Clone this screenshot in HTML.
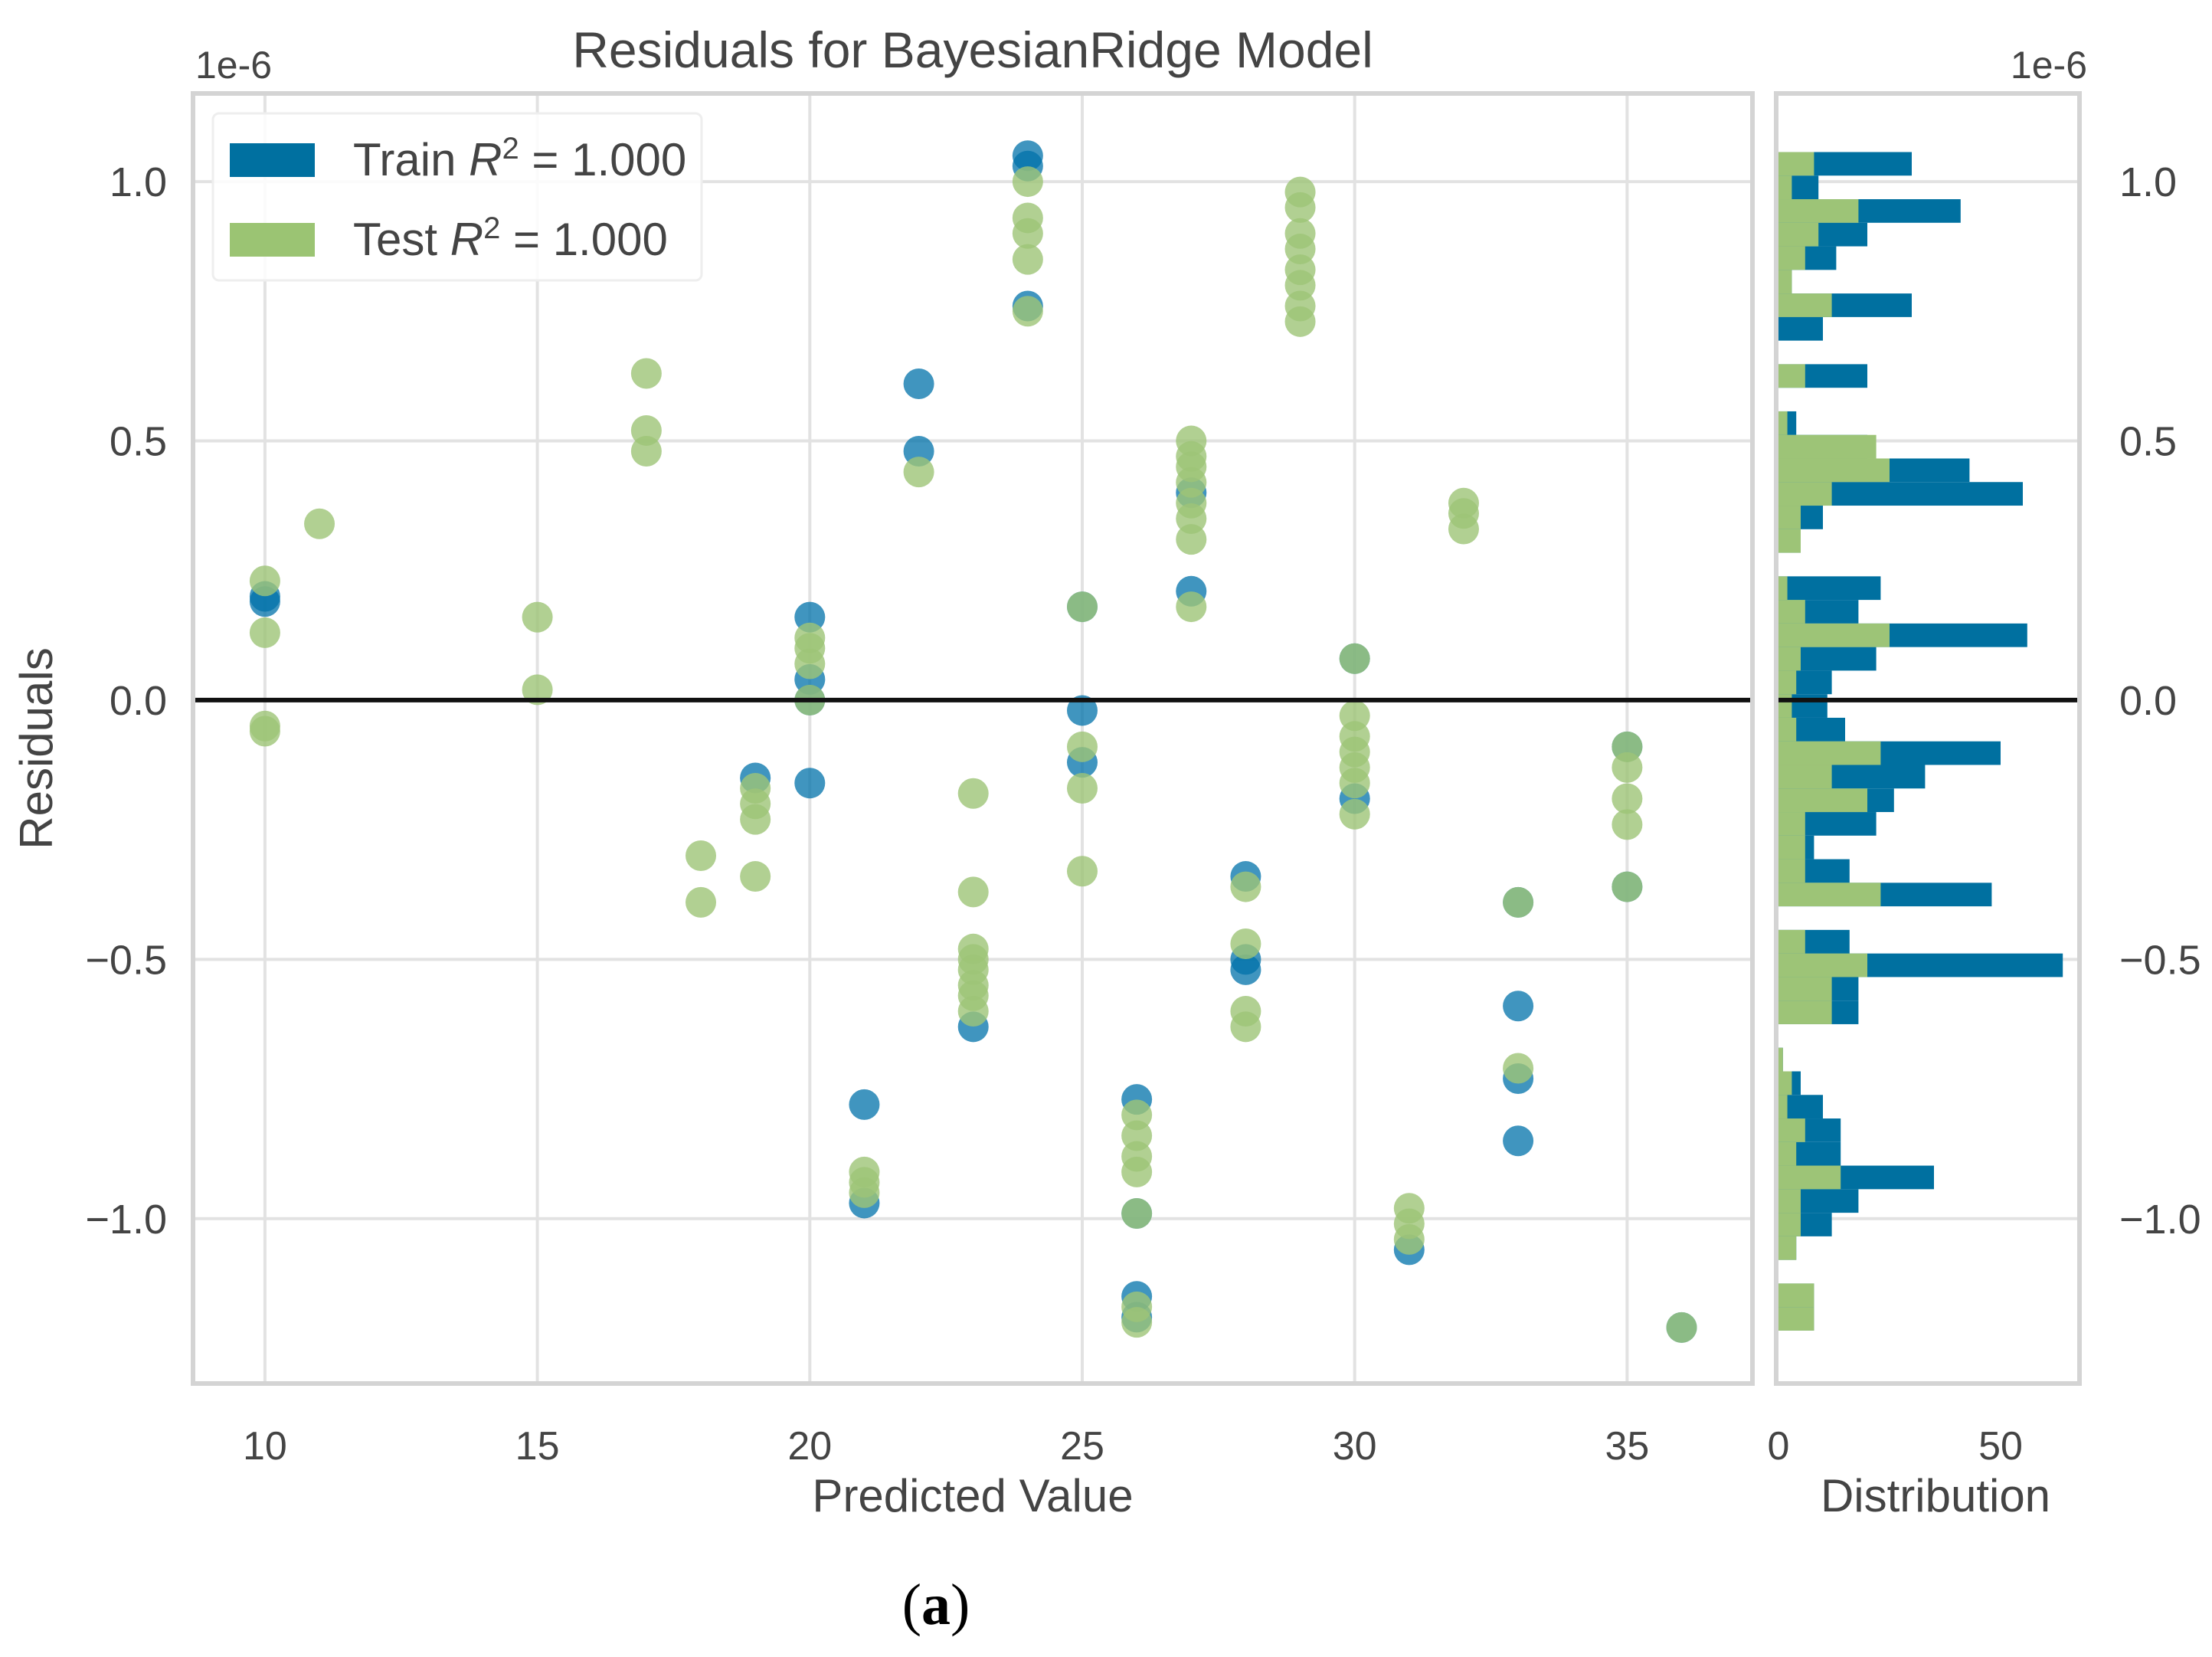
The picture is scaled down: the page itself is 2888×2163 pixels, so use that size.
<!DOCTYPE html>
<html><head><meta charset="utf-8"><style>
html,body{margin:0;padding:0;background:#fff;}
svg text{font-family:"Liberation Sans",sans-serif;fill:#444;}
</style></head><body>
<svg id="chart" width="2888" height="2158" viewBox="0 0 2888 2158" xmlns="http://www.w3.org/2000/svg">
<g id="main"></g>
<g id="hist"></g>
<text x="1270" y="88" font-size="66" text-anchor="middle">Residuals for BayesianRidge Model</text>
<text x="255" y="102" font-size="50">1e-6</text>
<text x="2725" y="102" font-size="50" text-anchor="end">1e-6</text>
<text x="1270" y="1973" font-size="60" text-anchor="middle">Predicted Value</text>
<text x="2527" y="1973" font-size="60" text-anchor="middle">Distribution</text>
<text transform="translate(68,977) rotate(-90)" font-size="60" text-anchor="middle">Residuals</text>
<text x="1222" y="2120" font-size="76" text-anchor="middle" style="font-family:'Liberation Serif',serif;fill:#000">(<tspan font-weight="bold">a</tspan>)</text>
<g>
<rect x="278" y="148" width="638" height="218" rx="8" fill="#fff" fill-opacity="0.85" stroke="#eee" stroke-width="3"/>
<rect x="300" y="187" width="111" height="44" fill="#0070a0"/>
<rect x="300" y="291" width="111" height="44" fill="#9bc473"/>
<text x="461" y="229" font-size="60">Train <tspan font-style="italic">R</tspan><tspan dy="-22" font-size="40">2</tspan><tspan dy="22"> = 1.000</tspan></text>
<text x="461" y="333" font-size="60">Test <tspan font-style="italic">R</tspan><tspan dy="-22" font-size="40">2</tspan><tspan dy="22"> = 1.000</tspan></text>
</g>
</svg>
<script>
const xTicks=[10,15,20,25,30,35];
const yTicks=[-1.0,-0.5,0.0,0.5,1.0];
const yTickLabels=["\u22121.0","\u22120.5","0.0","0.5","1.0"];
const histTicks=[0,50];
const trainX=[10,10,19,20,20,20,20,21,21,22,22,23,24,24,24,25,25,25,26,26,26,26,27,27,28,28,28,30,30,31,33,33,33,33,35,35,36];
const trainY=[0.2,0.19,-0.15,0.16,0.04,0.0,-0.16,-0.78,-0.97,0.61,0.48,-0.63,1.05,1.03,0.76,0.18,-0.02,-0.12,-0.77,-0.99,-1.15,-1.19,0.21,0.4,-0.34,-0.5,-0.52,0.08,-0.19,-1.06,-0.39,-0.59,-0.73,-0.85,-0.09,-0.36,-1.21];
const testX=[10,10,10,10,11,15,15,17,17,17,18,18,19,19,19,19,20,20,20,20,21,21,21,22,23,23,23,23,23,23,23,23,24,24,24,24,24,25,25,25,25,26,26,26,26,26,26,26,27,27,27,27,27,27,27,27,28,28,28,28,29,29,29,29,29,29,29,29,30,30,30,30,30,30,30,31,31,31,32,32,32,33,33,35,35,35,35,35,36];
const testY=[0.23,0.13,-0.05,-0.06,0.34,0.16,0.02,0.63,0.52,0.48,-0.30,-0.39,-0.17,-0.2,-0.23,-0.34,0.12,0.1,0.07,0.0,-0.91,-0.93,-0.95,0.44,-0.18,-0.37,-0.48,-0.5,-0.52,-0.55,-0.57,-0.6,1.0,0.93,0.9,0.85,0.75,0.18,-0.09,-0.17,-0.33,-0.8,-0.84,-0.88,-0.91,-0.99,-1.17,-1.2,0.5,0.47,0.45,0.42,0.38,0.35,0.31,0.18,-0.36,-0.47,-0.6,-0.63,0.98,0.95,0.9,0.87,0.83,0.8,0.76,0.73,0.08,-0.03,-0.07,-0.1,-0.13,-0.16,-0.22,-0.98,-1.01,-1.04,0.38,0.36,0.33,-0.71,-0.39,-0.09,-0.36,-0.13,-0.19,-0.24,-1.21];
const trainCounts=[30,9,41,20,13,3,30,10,0,20,0,4,20,43,55,10,5,0,23,18,56,22,12,11,15,50,33,26,22,8,16,48,0,16,64,18,18,0,1,5,10,14,14,35,18,12,4,0,8,8];
const testCounts=[8,3,18,9,6,3,12,0,0,6,0,2,22,25,12,5,5,0,2,6,25,5,4,3,4,23,12,20,6,6,6,23,0,6,20,12,12,0,1,3,2,6,4,14,5,5,4,0,8,8];
const binTop=1.057, binWidth=0.04546;

const NS="http://www.w3.org/2000/svg";
const L=252,R=2288,T=122,B=1806,HL=2319,HR=2715;
const xMin=8.68,xMax=37.3,yMin=-1.318,yMax=1.17;
function sx(v){return L+(v-xMin)/(xMax-xMin)*(R-L);}
function sy(v){return B-(v-yMin)/(yMax-yMin)*(B-T);}
function hx(c){return 2322+c*5.8;}
function mk(tag,attrs,parent){const e=document.createElementNS(NS,tag);for(const k in attrs)e.setAttribute(k,attrs[k]);parent.appendChild(e);return e;}
const main=document.getElementById('main'),hist=document.getElementById('hist');
const svg=document.getElementById('chart');

xTicks.forEach((t,i)=>{
  const l=mk('line',{x1:sx(t),x2:sx(t),y1:T,y2:B,stroke:'#e2e2e2','stroke-width':4},main);
  
  
  const tx=mk('text',{x:sx(t),y:1905,'font-size':52,'text-anchor':'middle'},svg);
  tx.textContent=String(t);
  
  
});
yTicks.forEach((t,i)=>{
  const l=mk('line',{x1:L,x2:R,y1:sy(t),y2:sy(t),stroke:'#e2e2e2','stroke-width':4},main);
  
  
  const l2=mk('line',{x1:HL,x2:HR,y1:sy(t),y2:sy(t),stroke:'#e2e2e2','stroke-width':4},hist);
  
  
  const tx=mk('text',{x:218,y:sy(t)+19,'font-size':54,'text-anchor':'end'},svg);
  tx.textContent=yTickLabels[i];
  
  
  const tx2=mk('text',{x:2767,y:sy(t)+19,'font-size':54},svg);
  tx2.textContent=yTickLabels[i];
  
  
});
histTicks.forEach(t=>{
  const tx=mk('text',{x:hx(t),y:1905,'font-size':52,'text-anchor':'middle'},svg);
  tx.textContent=String(t);
  
  
});

trainX.forEach((x,i)=>{
  const c=mk('circle',{cx:sx(x),cy:sy(trainY[i]),r:20,fill:'#0072aa','fill-opacity':0.75},main);
  
  
});
testX.forEach((x,i)=>{
  const c=mk('circle',{cx:sx(x),cy:sy(testY[i]),r:20,fill:'#9dc477','fill-opacity':0.8},main);
  
  
});

function bars(counts,color,name){
  counts.forEach((c,i)=>{
    if(c<=0)return;
    const top=sy(binTop-i*binWidth), bot=sy(binTop-(i+1)*binWidth);
    const r=mk('rect',{x:hx(0),y:top,width:hx(c)-hx(0),height:bot-top,fill:color},hist);
    
    
  });
}
bars(trainCounts,'#0070a0','train-hist-bar');
bars(testCounts,'#9dc477','test-hist-bar');

const z1=mk('line',{x1:L,x2:R,y1:sy(0),y2:sy(0),stroke:'#111','stroke-width':6},main);


const z2=mk('line',{x1:HL,x2:HR,y1:sy(0),y2:sy(0),stroke:'#111','stroke-width':6},hist);



const f1=mk('rect',{x:L,y:T,width:R-L,height:B-T,fill:'none',stroke:'#d4d4d4','stroke-width':6},main);


const f2=mk('rect',{x:HL,y:T,width:HR-HL,height:B-T,fill:'none',stroke:'#d4d4d4','stroke-width':6},hist);


</script>
</body></html>
